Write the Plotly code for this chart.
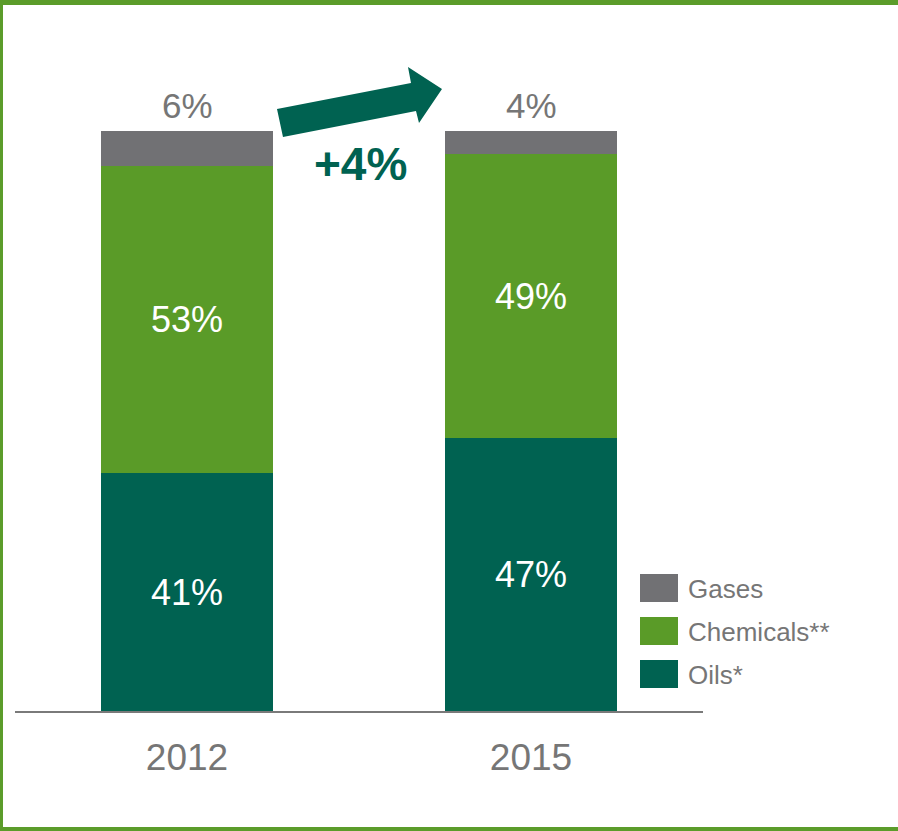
import plotly.graph_objects as go

# Share of total by segment (%), per year
years = ["2012", "2015"]
oils = [41, 47]
chemicals = [53, 49]
gases = [6, 4]
change_label = "+4%"

series = [
    ("Oils*", oils, "#006251"),
    ("Chemicals**", chemicals, "#5a9b28"),
    ("Gases", gases, "#717174"),
]

W, H = 898, 831
FONT = "Liberation Sans, Arial, sans-serif"
GRAY_TEXT = "#767676"
DARK_GREEN = "#006251"
FRAME_GREEN = "#5b9c2a"


def px(x):
    return x / W


def py(y):
    return 1 - y / H


xpos = list(range(len(years)))

fig = go.Figure()
for name, vals, color in series:
    inside = name != "Gases"
    fig.add_trace(go.Bar(
        x=xpos, y=vals, name=name, width=0.5,
        marker=dict(color=color, line=dict(width=0)),
        text=[f"{v}%" for v in vals] if inside else None,
        textposition="inside" if inside else "none",
        insidetextanchor="middle",
        textfont=dict(family=FONT, size=36, color="white"),
        constraintext="none",
        hoverinfo="skip",
    ))

totals = [o + c + g for o, c, g in zip(oils, chemicals, gases)]

shapes = []
annotations = []

# value labels for the top segment, with a short leader tick
for i, (t, g) in enumerate(zip(totals, gases)):
    annotations.append(dict(
        x=i, y=t, xref="x", yref="y", text=f"{g}%", showarrow=False,
        yanchor="middle", yshift=25,
        font=dict(family=FONT, size=35, color=GRAY_TEXT),
    ))
    shapes.append(dict(
        type="line", xref="x", yref="y", x0=i, x1=i, y0=t, y1=t + 0.8,
        line=dict(color="#8a8a8a", width=1.5),
    ))

# change arrow between the two years
arrow_pts = [(277, 109), (411, 83), (408, 67), (442, 89),
             (419, 123), (416, 111), (283, 137)]
path = "M " + " L ".join(f"{px(x):.5f},{py(y):.5f}" for x, y in arrow_pts) + " Z"
shapes.append(dict(type="path", xref="paper", yref="paper", path=path,
                   fillcolor=DARK_GREEN, line=dict(width=0)))
annotations.append(dict(
    x=px(360), y=py(164), xref="paper", yref="paper", text=f"<b>{change_label}</b>",
    showarrow=False, xanchor="center", yanchor="middle",
    font=dict(family=FONT, size=46, color=DARK_GREEN),
))

# legend drawn as swatches with labels (top entry = top segment)
for k, (name, vals, color) in enumerate(reversed(series)):
    y0 = 574 + k * 43
    shapes.append(dict(type="rect", xref="paper", yref="paper",
                       x0=px(640), x1=px(678), y0=py(y0 + 28), y1=py(y0),
                       fillcolor=color, line=dict(width=0)))
    annotations.append(dict(
        x=px(686), y=py(y0 + 15), xref="paper", yref="paper", text=name,
        showarrow=False, xanchor="left", yanchor="middle",
        font=dict(family=FONT, size=26, color=GRAY_TEXT),
    ))

# outer frame
for x0, y0, x1, y1 in [(0, 0, 898, 5), (0, 0, 3, 831), (0, 827, 898, 831)]:
    shapes.append(dict(type="rect", xref="paper", yref="paper",
                       x0=px(x0), x1=px(x1), y0=py(y1), y1=py(y0),
                       fillcolor=FRAME_GREEN, line=dict(width=0), layer="above"))

fig.update_layout(
    width=W, height=H,
    margin=dict(l=0, r=0, t=0, b=0, autoexpand=False),
    paper_bgcolor="white", plot_bgcolor="white",
    barmode="stack", bargap=0,
    showlegend=False,
    shapes=shapes, annotations=annotations,
    xaxis=dict(
        domain=[px(15), px(703)], range=[-0.5, 1.5],
        tickvals=xpos, ticktext=years,
        tickfont=dict(family=FONT, size=37, color=GRAY_TEXT),
        showline=True, linecolor="#7a7a7a", linewidth=2,
        showgrid=False, zeroline=False, ticks="", ticklabelstandoff=13,
        fixedrange=True,
    ),
    yaxis=dict(
        domain=[py(711), py(131)], range=[0, 100],
        visible=False, showgrid=False, zeroline=False, fixedrange=True,
    ),
)

fig.write_html("out.html")
